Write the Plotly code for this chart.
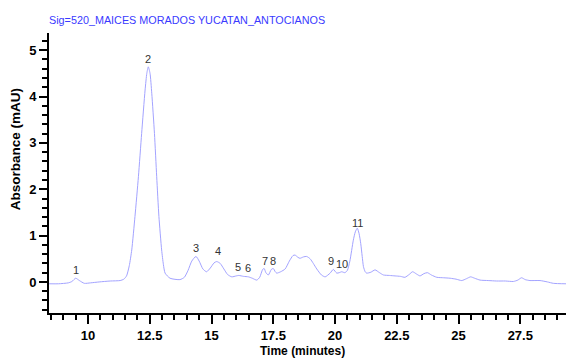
import plotly.graph_objects as go

# Chromatogram at 520 nm: retention time (min) vs absorbance (mAU)
time_min = [
    8.42, 8.8, 9.2, 9.35, 9.5, 9.65, 9.85, 10.1, 10.45, 10.9, 11.3, 11.45, 11.56, 11.67,
    11.77, 11.9, 12.04, 12.17, 12.31, 12.38, 12.44, 12.51, 12.58, 12.69, 12.78, 12.87,
    12.98, 13.05, 13.12, 13.32, 13.72, 13.9, 14.05, 14.2, 14.37, 14.5, 14.65, 14.8,
    14.95, 15.1, 15.21, 15.35, 15.5, 15.65, 15.82, 16.0, 16.1, 16.3, 16.49, 16.65,
    16.83, 16.95, 17.07, 17.13, 17.2, 17.3, 17.42, 17.5, 17.58, 17.64, 17.8, 17.98,
    18.15, 18.3, 18.38, 18.5, 18.58, 18.72, 18.85, 18.99, 19.12, 19.26, 19.45, 19.6,
    19.8, 19.93, 20.07, 20.17, 20.27, 20.4, 20.5, 20.6, 20.74, 20.82, 20.9, 20.97,
    21.04, 21.1, 21.15, 21.22, 21.28, 21.45, 21.62, 21.8, 21.96, 22.2, 22.43, 22.65,
    22.83, 23.0, 23.14, 23.3, 23.44, 23.6, 23.74, 23.9, 24.12, 24.4, 24.66, 24.9,
    25.13, 25.32, 25.49, 25.65, 25.87, 26.2, 26.54, 26.9, 27.22, 27.4, 27.55, 27.7,
    27.89, 28.3, 28.6, 28.84, 29.35,
]
absorbance = [
    -0.04, -0.04, -0.02, 0.01, 0.08, 0.03, -0.03, -0.02, 0.0, 0.02, 0.03, 0.06, 0.13, 0.35,
    0.69, 1.41, 2.27, 3.2, 4.14, 4.5, 4.64, 4.5, 4.07, 3.2, 2.27, 1.41,
    0.69, 0.38, 0.19, 0.08, 0.05, 0.1, 0.25, 0.45, 0.55, 0.45, 0.28, 0.22,
    0.3, 0.41, 0.44, 0.4, 0.28, 0.16, 0.11, 0.13, 0.14, 0.12, 0.11, 0.08,
    0.04, 0.1, 0.27, 0.29, 0.2, 0.15, 0.27, 0.29, 0.22, 0.19, 0.22, 0.28,
    0.45, 0.57, 0.58, 0.53, 0.51, 0.54, 0.55, 0.5, 0.4, 0.28, 0.15, 0.11,
    0.19, 0.27, 0.19, 0.2, 0.22, 0.2, 0.25, 0.45, 0.9, 1.08, 1.16, 1.05,
    0.83, 0.55, 0.33, 0.22, 0.19, 0.21, 0.26, 0.2, 0.15, 0.14, 0.13, 0.12,
    0.1, 0.16, 0.22, 0.17, 0.13, 0.18, 0.2, 0.15, 0.1, 0.09, 0.08, 0.06,
    0.03, 0.07, 0.11, 0.08, 0.04, 0.03, 0.02, 0.02, 0.01, 0.04, 0.09, 0.05,
    0.03, 0.03, 0.0, -0.03, -0.04,
]

# Numbered peaks: apex time and apex absorbance
peak_ids = ["1", "2", "3", "4", "5", "6", "7", "8", "9", "10", "11"]
peak_t = [9.5, 12.44, 14.37, 15.25, 16.09, 16.49, 17.17, 17.48, 19.82, 20.27, 20.9]
peak_h = [0.08, 4.64, 0.55, 0.5, 0.14, 0.12, 0.29, 0.29, 0.27, 0.22, 1.1]

x_ticks = [10, 12.5, 15, 17.5, 20, 22.5, 25, 27.5, 30]
x_tick_text = ["10", "12.5", "15", "17.5", "20", "22.5", "25", "27.5", "30"]
y_ticks = [0, 1, 2, 3, 4, 5]

fig = go.Figure()
fig.add_trace(go.Scatter(
    x=time_min, y=absorbance, mode="lines",
    line=dict(color="#a3a3ff", width=1, shape="spline", smoothing=0.6),
    hoverinfo="skip", showlegend=False,
))

for pid, t, h in zip(peak_ids, peak_t, peak_h):
    fig.add_annotation(
        x=t, y=h, text=pid, showarrow=False, yanchor="middle", yshift=8,
        font=dict(family="Arial, Liberation Sans, sans-serif", size=11, color="#333333"),
    )

axis_font = dict(family="Arial, Liberation Sans, sans-serif", size=13, color="black")

fig.update_layout(
    width=566, height=358,
    margin=dict(l=49, r=0, t=33, b=45),
    paper_bgcolor="white", plot_bgcolor="white",
    showlegend=False,
    xaxis=dict(
        range=[8.42, 29.35], tickvals=x_ticks, ticktext=x_tick_text,
        ticks="outside", ticklen=9, tickwidth=2, tickcolor="black",
        showline=True, linecolor="black", linewidth=2, showgrid=False, zeroline=False,
        tickfont=dict(axis_font, weight="bold"),
        minor=dict(dtick=0.5, tick0=0, ticks="outside", ticklen=5, tickwidth=1.5,
                   tickcolor="black", showgrid=False),
    ),
    yaxis=dict(
        range=[-0.67, 5.37], tickvals=y_ticks,
        ticks="outside", ticklen=8, tickwidth=2, tickcolor="black",
        showline=True, linecolor="black", linewidth=2, showgrid=False, zeroline=False,
        tickfont=dict(axis_font, weight="bold"),
        minor=dict(dtick=0.2, tick0=0, ticks="outside", ticklen=5, tickwidth=1.5,
                   tickcolor="black", showgrid=False),
    ),
)

# Signal title and axis titles
fig.add_annotation(
    xref="paper", yref="paper", x=-0.004, y=1.0, yshift=13,
    xanchor="left", yanchor="middle", showarrow=False,
    text="Sig=520_MAICES MORADOS YUCATAN_ANTOCIANOS",
    font=dict(family="Arial, Liberation Sans, sans-serif", size=10.8, color="#3a3aff"),
)
fig.add_annotation(
    xref="paper", yref="paper", x=0.49, y=0, yshift=-38,
    xanchor="center", yanchor="middle", showarrow=False,
    text="<b>Time (minutes)</b>",
    font=dict(family="Arial, Liberation Sans, sans-serif", size=12, color="black"),
)
fig.add_annotation(
    xref="paper", yref="paper", x=0, xshift=-34, y=0.585,
    xanchor="center", yanchor="middle", showarrow=False, textangle=-90,
    text="<b>Absorbance (mAU)</b>",
    font=dict(family="Arial, Liberation Sans, sans-serif", size=13.5, color="black"),
)

fig.write_html("out.html")
